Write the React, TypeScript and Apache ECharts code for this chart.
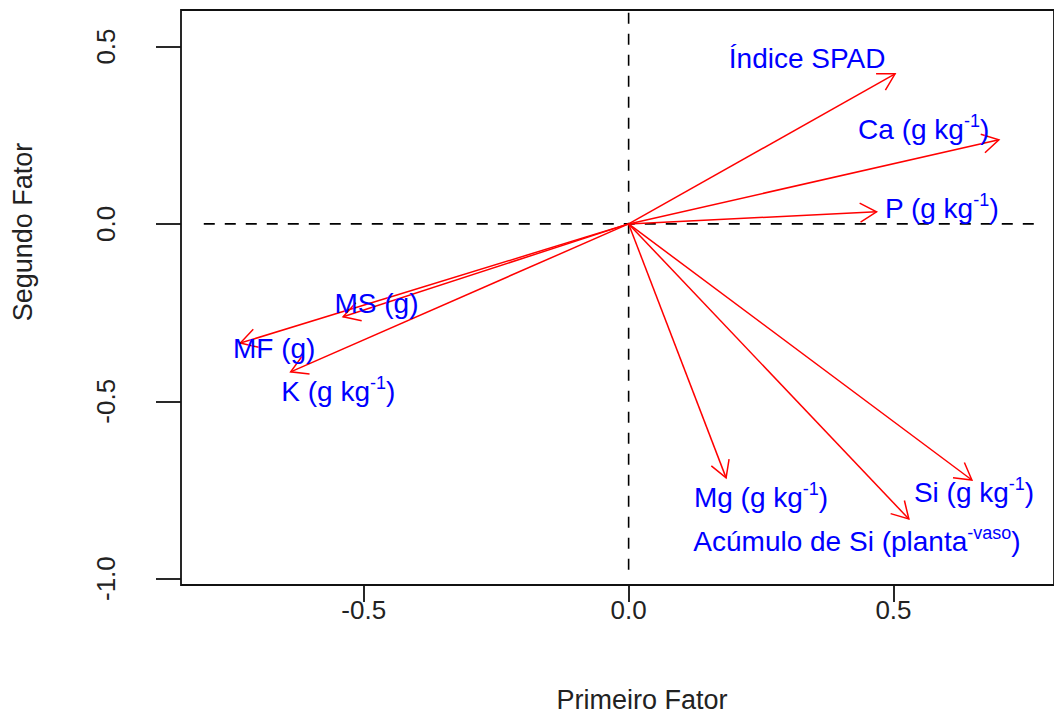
import React, { useEffect, useRef } from "react";
import * as echarts from "echarts";

// Loadings (arrow tips) on the first and second factor
const variables = ["SPAD", "Ca", "P", "MS", "MF", "K", "Mg", "Acumulo", "Si"];
const factor1 = [0.503, 0.699, 0.468, -0.539, -0.733, -0.638, 0.184, 0.529, 0.648];
const factor2 = [0.423, 0.237, 0.034, -0.262, -0.336, -0.417, -0.716, -0.832, -0.722];

// Label anchor points (data units) and label text pieces
const labelX = [0.337, 0.557, 0.591, -0.476, -0.669, -0.548, 0.250, 0.431, 0.652];
const labelY = [0.471, 0.271, 0.048, -0.220, -0.347, -0.468, -0.767, -0.891, -0.753];
const labelBase = ["Índice SPAD", "Ca (g kg", "P (g kg", "MS (g)", "MF (g)", "K (g kg", "Mg (g kg", "Acúmulo de Si (planta", "Si (g kg"];
const labelSup = ["", "-1", "-1", "", "", "-1", "-1", "-vaso", "-1"];
const labelTail = ["", ")", ")", "", "", ")", ")", ")", ")"];

// Reference dashed lines
const hLineX = [-0.802, 0.774];
const vLineY = [0.595, -0.976];

// Axis ticks
const xTicks = [-0.5, 0.0, 0.5];
const yTicks = [-1.0, -0.5, 0.0, 0.5];

const FONT = "'Liberation Sans', Arial, Helvetica, sans-serif";

export default function App() {
  const ref = useRef<HTMLDivElement>(null);
  useEffect(() => {
    if (!ref.current) return;
    const chart = echarts.init(ref.current, undefined, { renderer: "svg" });
    const axisCol = "#222";
    const option: any = {
      animation: false,
      backgroundColor: "#fff",
      grid: {
        show: true,
        left: 181,
        top: 10,
        width: 875,
        bottom: 131,
        borderColor: "#111",
        borderWidth: 1.8,
        containLabel: false,
      },
      xAxis: {
        type: "value",
        min: -0.845,
        max: 0.803,
        axisLine: { show: false, onZero: false },
        splitLine: { show: false },
        axisTick: {
          show: true,
          length: 17,
          customValues: xTicks,
          lineStyle: { color: "#111", width: 1.8 },
        },
        axisLabel: {
          customValues: xTicks,
          formatter: (v: number) => v.toFixed(1),
          fontSize: 26,
          fontFamily: FONT,
          color: axisCol,
          margin: 12,
        },
      },
      yAxis: {
        type: "value",
        min: -1.018,
        max: 0.603,
        axisLine: { show: false, onZero: false },
        splitLine: { show: false },
        axisTick: {
          show: true,
          length: 25,
          customValues: yTicks,
          lineStyle: { color: "#111", width: 1.8 },
        },
        axisLabel: {
          customValues: yTicks,
          rotate: 90,
          formatter: (v: number) => v.toFixed(1),
          fontSize: 26,
          fontFamily: FONT,
          color: axisCol,
          margin: 62,
        },
      },
      graphic: [
        {
          type: "text",
          x: 642,
          y: 700,
          style: {
            text: "Primeiro Fator",
            fontSize: 27,
            fontFamily: FONT,
            fill: axisCol,
            align: "center",
            verticalAlign: "middle",
          },
        },
        {
          type: "text",
          x: 23,
          y: 232,
          rotation: Math.PI / 2,
          style: {
            text: "Segundo Fator",
            fontSize: 27,
            fontFamily: FONT,
            fill: axisCol,
            align: "center",
            verticalAlign: "middle",
          },
        },
      ],
      series: [
        {
          type: "line",
          silent: true,
          symbol: "none",
          data: hLineX.map((x) => [x, 0]),
          lineStyle: { color: "#000", width: 1.6, type: [11, 10] },
          z: 1,
        },
        {
          type: "line",
          silent: true,
          symbol: "none",
          data: vLineY.map((y) => [0, y]),
          lineStyle: { color: "#000", width: 1.6, type: [11, 10] },
          z: 1,
        },
        {
          type: "custom",
          silent: true,
          z: 3,
          data: factor1.map((x, i) => [x, factor2[i], variables[i]]),
          renderItem: (params: any, api: any) => {
            const o = api.coord([0, 0]);
            const t = api.coord([api.value(0), api.value(1)]);
            const ang = Math.atan2(t[1] - o[1], t[0] - o[0]);
            const L = 19;
            const a = Math.PI / 6;
            const p1 = [t[0] - L * Math.cos(ang - a), t[1] - L * Math.sin(ang - a)];
            const p2 = [t[0] - L * Math.cos(ang + a), t[1] - L * Math.sin(ang + a)];
            const st = { stroke: "#ff0000", lineWidth: 1.5, fill: "none" };
            return {
              type: "group",
              children: [
                { type: "line", shape: { x1: o[0], y1: o[1], x2: t[0], y2: t[1] }, style: st },
                { type: "polyline", shape: { points: [p1, t, p2] }, style: st },
              ],
            };
          },
        },
        {
          type: "custom",
          silent: true,
          z: 4,
          data: labelX.map((x, i) => [x, labelY[i]]),
          renderItem: (params: any, api: any) => {
            const i = params.dataIndex;
            const p = api.coord([api.value(0), api.value(1)]);
            let txt = "{b|" + labelBase[i] + "}";
            if (labelSup[i]) txt += "{s|" + labelSup[i] + "}";
            if (labelTail[i]) txt += "{b|" + labelTail[i] + "}";
            return {
              type: "text",
              x: p[0],
              y: p[1],
              style: {
                text: txt,
                align: "center",
                verticalAlign: "middle",
                fill: "#0000ff",
                fontFamily: FONT,
                fontSize: 28,
                rich: {
                  b: { fontSize: 28, fontFamily: FONT, fill: "#0000ff", color: "#0000ff", lineHeight: 32, verticalAlign: "bottom" },
                  s: { fontSize: 18, fontFamily: FONT, fill: "#0000ff", color: "#0000ff", lineHeight: 32, verticalAlign: "top" },
                },
              },
            };
          },
        },
      ],
    };
    chart.setOption(option);
    return () => chart.dispose();
  }, []);
  return (
    <div
      ref={ref}
      style={{ position: "absolute", left: 0, top: 0, width: 1054, height: 716 }}
    />
  );
}
